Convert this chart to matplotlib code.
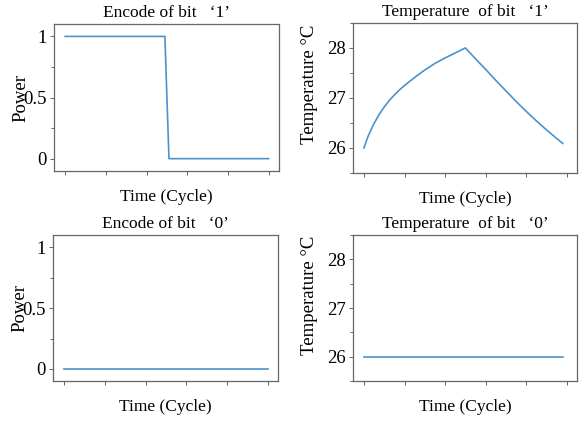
import numpy as np
import matplotlib
matplotlib.use("Agg")
import matplotlib.pyplot as plt
from matplotlib.ticker import MultipleLocator

plt.rcParams['font.family'] = ['Liberation Serif', 'DejaVu Serif']
plt.rcParams['font.size'] = 12

# encode of bit '1' / '0'
t_power1 = [0, 49, 51, 100]
power1 = [1, 1, 0, 0]
t_power0 = [0, 100]
power0 = [0, 0]

# temperature response
t_temp1 = [0, 1, 2, 3, 4, 5, 7.5, 10, 12.5, 15, 17.5, 20, 25, 30, 35, 40, 45, 50,
           55, 60, 65, 70, 75, 80, 85, 90, 95, 98]
temp1 = [26.00, 26.12, 26.23, 26.32, 26.41, 26.49, 26.67, 26.82, 26.95, 27.06, 27.16, 27.25,
         27.41, 27.56, 27.69, 27.80, 27.90, 28.00,
         27.78, 27.57, 27.35, 27.14, 26.93, 26.73, 26.54, 26.36, 26.19, 26.09]
t_temp0 = [0, 98]
temp0 = [26, 26]

xticks = [0, 20, 40, 60, 80, 100]
line_color = '#4a93cc'
spine_color = '#666666'

fig = plt.figure(figsize=(5.87, 4.24), dpi=100)
ax_tl = fig.add_axes([0.092, 0.597, 0.383, 0.346])
ax_tr = fig.add_axes([0.601, 0.592, 0.382, 0.354])
ax_bl = fig.add_axes([0.090, 0.101, 0.384, 0.345])
ax_br = fig.add_axes([0.601, 0.101, 0.382, 0.345])


def style(ax):
    ax.set_xlim(-5.5, 105)
    ax.set_xticks(xticks)
    ax.set_xticklabels([])
    for s in ax.spines.values():
        s.set_color(spine_color)
        s.set_linewidth(0.9)
    ax.tick_params(axis='both', which='both', direction='out', length=3,
                   width=0.7, color=spine_color, pad=2, labelsize=13.5)
    ax.tick_params(axis='y', which='minor', length=2)
    ax.set_xlabel('Time (Cycle)', labelpad=8, fontsize=12.5)


# power panels
for ax, t, p, bit in [(ax_tl, t_power1, power1, '1'), (ax_bl, t_power0, power0, '0')]:
    ax.plot(t, p, color=line_color, lw=1.2)
    style(ax)
    ax.set_ylim(-0.1, 1.1)
    ax.set_yticks([0, 0.5, 1])
    ax.set_yticklabels(['0', '0.5', '1'])
    ax.yaxis.set_minor_locator(MultipleLocator(0.25))
    ax.set_ylabel('Power', fontsize=13.5)
    ax.yaxis.set_label_coords(-0.11, 0.5)
    ax.set_title('Encode of bit   \u2018' + bit + '\u2019', pad=5, fontsize=12.5)

# temperature panels
for ax, t, T, bit in [(ax_tr, t_temp1, temp1, '1'), (ax_br, t_temp0, temp0, '0')]:
    ax.plot(t, T, color=line_color, lw=1.2)
    style(ax)
    ax.set_ylim(25.5, 28.5)
    ax.set_yticks([26, 27, 28])
    ax.yaxis.set_minor_locator(MultipleLocator(0.5))
    ax.set_ylabel('Temperature \u00b0C', fontsize=13.5)
    ax.yaxis.set_label_coords(-0.156, 0.59)
    ax.set_title('Temperature  of bit   \u2018' + bit + '\u2019', pad=5, fontsize=12.5)

fig.savefig('out.png', dpi=100)
